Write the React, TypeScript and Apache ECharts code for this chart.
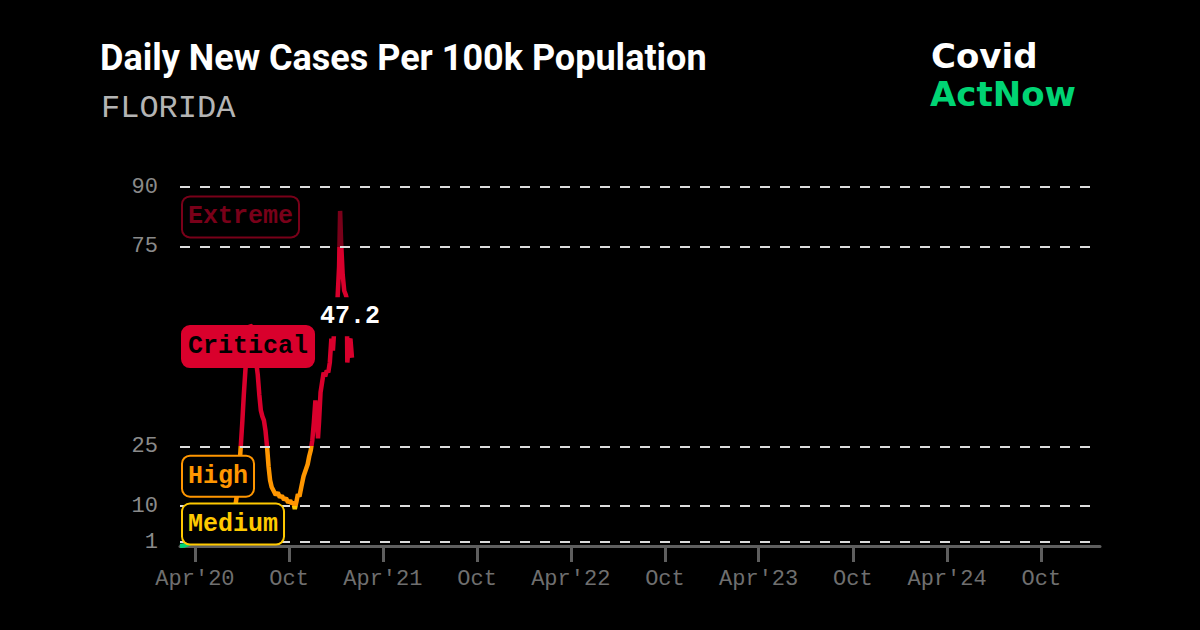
import React, { useEffect, useRef } from 'react';
import * as echarts from 'echarts';

const dates = [
  '2020-03-03', '2020-03-10', '2020-03-17', '2020-03-24', '2020-03-29', '2020-04-03', '2020-04-08',
  '2020-04-15', '2020-04-22', '2020-04-29', '2020-05-06', '2020-05-13', '2020-05-20', '2020-05-27',
  '2020-06-03', '2020-06-10', '2020-06-15', '2020-06-19', '2020-06-23', '2020-06-26', '2020-06-29',
  '2020-07-02', '2020-07-05', '2020-07-08', '2020-07-11', '2020-07-14', '2020-07-17', '2020-07-20',
  '2020-07-23', '2020-07-26', '2020-07-29', '2020-08-01', '2020-08-04', '2020-08-07', '2020-08-10',
  '2020-08-13', '2020-08-16', '2020-08-19', '2020-08-22', '2020-08-25', '2020-08-28', '2020-09-01',
  '2020-09-05', '2020-09-09', '2020-09-13', '2020-09-17', '2020-09-21', '2020-09-25', '2020-09-29',
  '2020-10-03', '2020-10-06', '2020-10-09', '2020-10-12', '2020-10-15', '2020-10-18', '2020-10-21',
  '2020-10-25', '2020-10-29', '2020-11-02', '2020-11-06', '2020-11-09', '2020-11-12', '2020-11-15',
  '2020-11-18', '2020-11-21', '2020-11-24', '2020-11-26', '2020-11-28', '2020-12-01', '2020-12-04',
  '2020-12-07', '2020-12-10', '2020-12-13', '2020-12-16', '2020-12-19', '2020-12-22', '2020-12-25',
  '2020-12-28', '2020-12-31', '2021-01-03', '2021-01-06', '2021-01-08', '2021-01-10', '2021-01-13',
  '2021-01-16', '2021-01-19', '2021-01-21', '2021-01-22', '2021-01-25', '2021-01-28', '2021-01-31',
];
const values = [
  0, 0.1, 0.4, 0.8, 1.2, 4.0, 5.2,
  4.6, 3.6, 3.0, 2.9, 3.1, 3.3, 3.6,
  4.2, 5.6, 7.5, 10.5, 14, 19, 25,
  31, 38, 44, 49, 53, 55.3, 55,
  53, 50, 46, 43, 38, 34, 32.5,
  31.5, 29, 25, 20, 16.5, 14.8, 13.8,
  12.8, 13.4, 12.2, 12.6, 11.6, 12.0, 10.9,
  11.4, 10.6, 11.0, 9.3, 11.0, 13.0, 12.4,
  15.0, 17.5, 19.0, 20.5, 22.5, 24.0, 26.5,
  31, 36.5, 32, 27, 31, 38.5, 41,
  43.5, 42.5, 44, 43.5, 46, 52, 49,
  55, 53, 62, 70, 84, 76, 68,
  64, 63, 62, 46, 51, 52, 47.2,
];
const yTicks = [1, 10, 25, 75, 90];
const xTickDates = [
  '2020-04-01', '2020-10-01', '2021-04-01', '2021-10-01', '2022-04-01',
  '2022-10-01', '2023-04-01', '2023-10-01', '2024-04-01', '2024-10-01',
];
const levelNames = ['Low', 'Medium', 'High', 'Critical', 'Extreme'];
const levelLow = [0, 1, 10, 25, 75];
const levelHigh = [1, 10, 25, 75, 90];
const levelColors = ['#00d474', '#ffc900', '#ff9600', '#d9002c', '#790019'];

const xMinDate = '2020-03-03';
const xMaxDate = '2025-01-23';
const dashEndDate = '2025-01-04';

const t = (s: string) => new Date(s + 'T00:00:00Z').getTime();

const MONO = '"Liberation Mono", "DejaVu Sans Mono", monospace';
const LOGO = 'bold 34px "DejaVu Sans", Inter, sans-serif';

export default function App() {
  const ref = useRef<HTMLDivElement>(null);

  useEffect(() => {
    document.body.style.margin = '0';
    const chart = echarts.init(ref.current!, null, { renderer: 'svg' });
    const seriesData = dates.map((d, i) => [t(d), values[i]]);
    const option: any = {
      animation: false,
      backgroundColor: '#000',
      grid: { left: 180, right: 100, top: 187, bottom: 84 },
      xAxis: {
        type: 'value',
        min: t(xMinDate),
        max: t(xMaxDate),
        splitLine: { show: false },
        axisLine: { show: true, lineStyle: { color: '#5e5e5e', width: 3 } },
        axisTick: {
          show: true,
          customValues: xTickDates.map(t),
          length: 16,
          lineStyle: { color: '#5e5e5e', width: 3 },
        },
        axisLabel: {
          customValues: xTickDates.map(t),
          color: '#6f6f6f',
          fontFamily: MONO,
          fontSize: 22,
          margin: 22,
          formatter: (v: number) => {
            const d = new Date(v);
            return d.getUTCMonth() === 3 ? "Apr'" + String(d.getUTCFullYear()).slice(2) : 'Oct';
          },
        },
      },
      yAxis: {
        type: 'value',
        min: 0,
        max: 90,
        splitLine: { show: false },
        axisLine: { show: false },
        axisTick: { show: false },
        axisLabel: {
          customValues: yTicks,
          color: '#8a8a8a',
          fontFamily: MONO,
          fontSize: 22,
          margin: 22,
        },
      },
      visualMap: {
        show: false,
        type: 'piecewise',
        seriesIndex: 0,
        dimension: 1,
        pieces: levelNames.map((n, i) =>
          i === levelNames.length - 1
            ? { gte: levelLow[i], color: levelColors[i] }
            : i === 0
            ? { lt: levelHigh[i], color: levelColors[i] }
            : { gte: levelLow[i], lt: levelHigh[i], color: levelColors[i] }
        ),
      },
      series: [
        {
          type: 'line',
          data: seriesData,
          showSymbol: false,
          symbol: 'none',
          lineStyle: { width: 4.5 },
          z: 3,
        },
        {
          type: 'line',
          data: [],
          z: 2,
          markLine: {
            silent: true,
            symbol: ['none', 'none'],
            label: { show: false },
            lineStyle: { color: '#dcdcdc', type: [10, 10], width: 2 },
            data: yTicks.map((v) => [
              { coord: [t(xMinDate), v] },
              { coord: [t(dashEndDate), v] },
            ]),
          },
        },
      ],
    };
    chart.setOption(option);

    const px = (d: string, v: number) => chart.convertToPixel({ gridIndex: 0 }, [t(d), v]) as number[];
    const graphics: any[] = [
      {
        type: 'text', z: 100,
        style: { text: 'Daily New Cases Per 100k Population', x: 100, y: 58, verticalAlign: 'middle', font: 'bold 36px Roboto', fill: '#ffffff' },
      },
      {
        type: 'text', z: 100,
        style: { text: 'FLORIDA', x: 101, y: 108, verticalAlign: 'middle', font: '32px ' + MONO, fill: '#b4b4b4' },
      },
      {
        type: 'text', z: 100,
        style: { text: 'Covid', x: 931, y: 56, verticalAlign: 'middle', font: LOGO, fill: '#ffffff' },
      },
      {
        type: 'text', z: 100,
        style: { text: 'ActNow', x: 930, y: 94, verticalAlign: 'middle', font: LOGO, fill: '#00d474' },
      },
    ];
    for (let i = 1; i < levelNames.length; i++) {
      const mid = (levelLow[i] + levelHigh[i]) / 2;
      const p = px(xMinDate, mid);
      const filled = levelNames[i] === 'Critical';
      graphics.push({
        type: 'text', z: 100,
        style: {
          text: levelNames[i],
          x: p[0] + 3,
          y: p[1],
          verticalAlign: 'middle',
          align: 'left',
          font: 'bold 25px ' + MONO,
          fill: filled ? '#000000' : levelColors[i],
          backgroundColor: filled ? levelColors[i] : '#000000',
          borderColor: levelColors[i],
          borderWidth: 2,
          borderRadius: 7,
          padding: [8, 5, 6, 5],
        },
      });
    }
    const last = px(dates[dates.length - 1], values[values.length - 1]);
    graphics.push({
      type: 'text', z: 100,
      style: {
        text: String(values[values.length - 1]),
        x: last[0] - 2,
        y: last[1] - 41,
        verticalAlign: 'middle',
        align: 'center',
        font: 'bold 25px ' + MONO,
        fill: '#ffffff',
        backgroundColor: '#000000',
        padding: [8, 3, 6, 3],
      },
    });
    chart.setOption({ graphic: graphics });

    return () => chart.dispose();
  }, []);

  return (
    <div style={{ position: 'fixed', left: 0, top: 0, width: 1200, height: 630, background: '#000' }}>
      <div ref={ref} style={{ width: 1200, height: 630 }} />
    </div>
  );
}
